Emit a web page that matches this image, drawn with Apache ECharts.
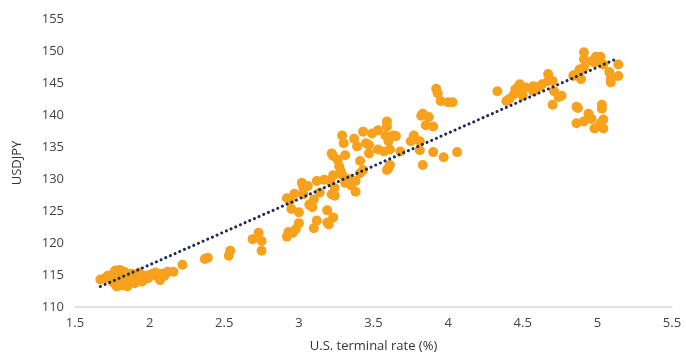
<!DOCTYPE html>
<html>
<head>
<meta charset="utf-8">
<script src="https://cdn.jsdelivr.net/npm/echarts@6/dist/echarts.min.js"></script>
<style>html,body{margin:0;padding:0;background:#fff}#c{width:686px;height:358px}</style>
</head>
<body>
<div id="c"></div>
<script>
const xTicks = [1.5, 2, 2.5, 3, 3.5, 4, 4.5, 5, 5.5];
const yTicks = [110, 115, 120, 125, 130, 135, 140, 145, 150, 155];
const xAxisTitle = "U.S. terminal rate (%)";
const yAxisTitle = "USDJPY";

const cluster2019 = [
  [1.67,114.3],[1.70,114.5],[1.72,114.9],[1.75,114.0],[1.77,115.7],[1.78,113.2],[1.79,114.5],
  [1.82,113.4],[1.84,114.9],[1.85,114.0],[1.85,113.2],[1.88,115.2],[1.90,113.7],[1.92,114.8],
  [1.95,114.0],[1.97,114.9],[1.99,114.5],[2.02,115.2],[2.05,114.8],[2.07,114.2],[2.08,115.2],
  [2.12,115.5],[2.16,115.5],[2.22,116.6],[1.76,115.3],[1.80,115.8],[1.81,114.2],[1.83,115.5],
  [1.87,114.6],[1.89,114.3],[1.93,115.4],[1.76,113.8],[1.80,113.6],[1.94,115.0],[2.00,115.0],
  [2.10,114.9],[2.04,115.4]
];
const early2022 = [
  [2.37,117.5],[2.39,117.7],[2.53,118.0],[2.54,118.8],[2.69,120.6],[2.73,121.6],[2.75,120.3],[2.75,118.8],
  [2.92,121.0],[2.93,121.7],[2.96,121.6],[2.98,122.2],[3.00,123.1],[3.10,122.3],[3.12,123.5],[3.19,123.2],
  [3.20,122.9],[3.23,124.0],[3.19,125.1],[3.00,124.8],[2.95,125.3],[2.94,126.6],[2.92,127.0],[2.97,127.7],
  [3.03,127.6],[3.03,128.6],[3.02,129.4],[3.06,128.9],[3.07,126.0],[3.09,125.6],[3.10,126.8],[3.12,129.7],
  [3.17,129.9],[3.14,127.9],[3.21,129.7],[3.22,127.6],[3.24,127.4],[3.24,128.6],[3.28,131.3],[3.29,130.6],
  [3.23,130.6],[3.31,129.4],[3.38,129.7],[3.38,128.0],[3.43,131.4],[3.59,131.4],[3.35,129.0],[3.33,130.0]
];
const mid2022 = [
  [3.27,132.0],[3.26,133.0],[3.31,133.7],[3.22,134.0],[3.23,133.6],[3.29,136.8],[3.30,135.6],[3.37,136.3],
  [3.39,135.1],[3.41,132.8],[3.43,137.4],[3.45,135.6],[3.47,134.0],[3.47,135.3],[3.49,137.1],[3.53,137.6],
  [3.53,134.6],[3.59,139.0],[3.59,138.2],[3.58,136.8],[3.60,135.9],[3.63,136.8],[3.65,136.7],[3.61,134.6],
  [3.61,132.2],[3.60,131.7],[3.68,134.3],[3.75,135.9],[3.77,136.8],[3.82,139.9],[3.41,130.9],[3.57,134.3],
  [3.83,140.2],[3.87,139.7],[3.85,138.4],[3.90,138.2],[3.81,135.9],[3.81,134.5],[3.90,134.2],[3.97,133.4],
  [4.06,134.2],[3.83,132.2],[3.92,144.1],[3.93,143.4],[3.95,142.2],[4.00,142.0],[4.03,142.0]
];
const late2022 = [
  [4.33,143.7],[4.39,142.2],[4.41,142.5],[4.45,144.0],[4.47,144.4],[4.49,143.6],[4.50,143.0],[4.57,144.5],
  [4.57,143.7],[4.61,144.4],[4.63,144.8],[4.67,146.4],[4.67,145.3],[4.70,145.3],[4.71,143.7],[4.74,142.8],
  [4.70,141.6],[4.84,146.2],[4.87,141.1],[4.88,146.8],[4.44,143.2],[4.48,144.8],[4.52,144.3],
  [4.91,149.8],[4.91,148.7],[4.99,149.1],[5.02,149.1],[4.96,148.4],[4.98,148.2],[5.04,147.9],[5.14,147.9],
  [5.08,146.7],[5.14,146.1],[5.09,145.6],[5.09,145.1],[4.84,146.1],[4.89,145.6],[4.88,147.1],[4.91,147.4],
  [4.76,143.0],[4.86,141.3],[5.03,141.6],[5.03,141.0],[4.94,140.2],[4.96,139.4],[4.86,138.7],[4.91,139.0],
  [5.04,139.3],[5.02,138.7],[4.98,137.9],[5.04,137.9]
];
const trendLine = [[1.67,113.2],[5.13,148.8]];

const points = [].concat(cluster2019, early2022, mid2022, late2022);
const font = "'Open Sans', 'Noto Sans', sans-serif";

const chart = echarts.init(document.getElementById('c'), null, {renderer: 'canvas'});
chart.setOption({
  animation: false,
  grid: {left: 75, right: 14, top: 19, bottom: 46},
  xAxis: {
    type: 'value', min: xTicks[0], max: xTicks[xTicks.length-1], interval: 0.5,
    name: xAxisTitle, nameLocation: 'middle', nameGap: 33,
    nameTextStyle: {color: '#333', fontSize: 13, fontFamily: font},
    axisLine: {show: true, lineStyle: {color: '#d9d9d9', width: 1.5}},
    axisTick: {show: false},
    splitLine: {show: false},
    axisLabel: {color: '#444', fontSize: 13, fontFamily: font, margin: 10}
  },
  yAxis: {
    type: 'value', min: yTicks[0], max: yTicks[yTicks.length-1], interval: 5,
    name: yAxisTitle, nameLocation: 'middle', nameGap: 51,
    nameTextStyle: {color: '#333', fontSize: 13, fontFamily: font},
    axisLine: {show: false}, axisTick: {show: false}, splitLine: {show: false},
    axisLabel: {color: '#444', fontSize: 13, fontFamily: font, margin: 11}
  },
  series: [
    {
      type: 'scatter', data: points, symbolSize: 10,
      itemStyle: {color: '#F7A11D', opacity: 1}, z: 2
    },
    {
      type: 'line', data: trendLine, symbol: 'none', z: 3,
      lineStyle: {color: '#1d2b57', width: 3, type: [0.1, 5], cap: 'round'}
    }
  ]
});
</script>
</body>
</html>
